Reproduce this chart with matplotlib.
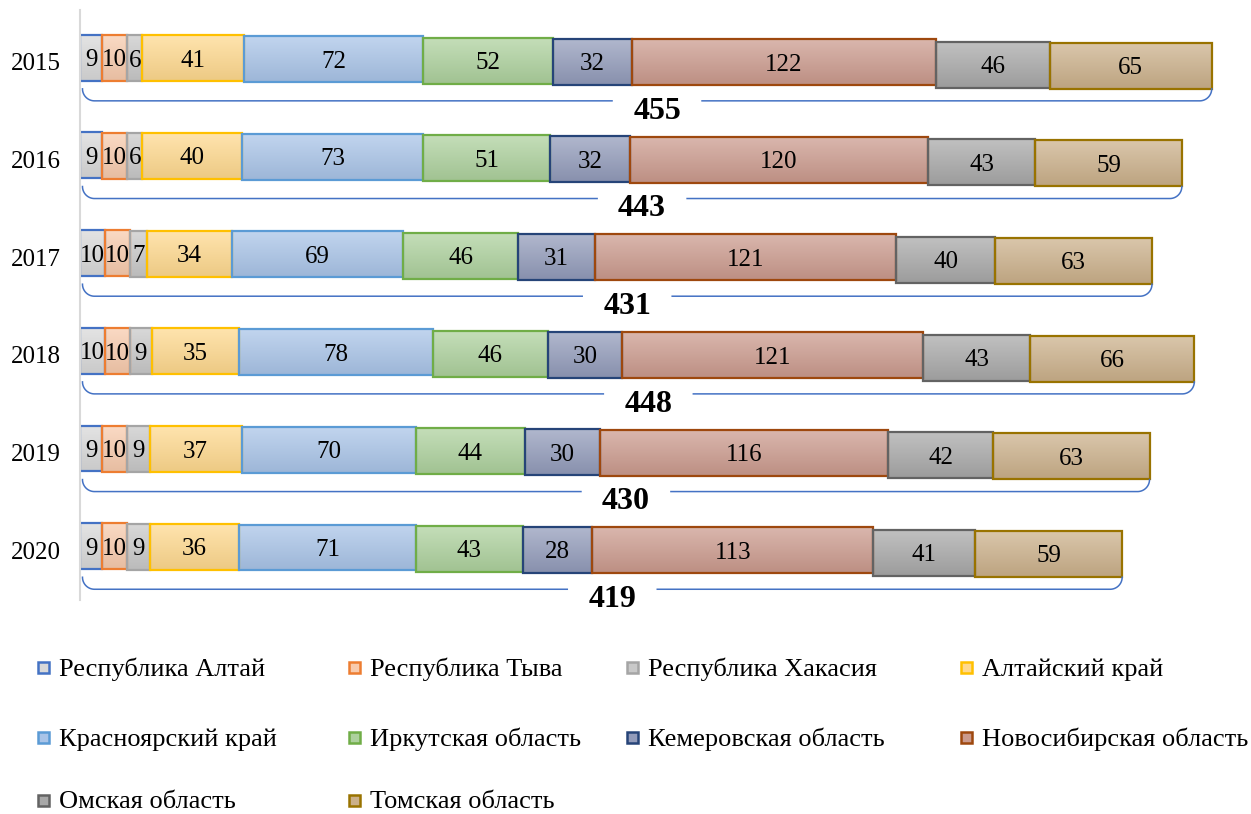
import numpy as np
import matplotlib
matplotlib.use('Agg')
import matplotlib.pyplot as plt
from matplotlib.colors import to_rgb, LinearSegmentedColormap
from matplotlib.patches import Rectangle

years = ['2015', '2016', '2017', '2018', '2019', '2020']
regions = ['Республика Алтай', 'Республика Тыва', 'Республика Хакасия',
           'Алтайский край', 'Красноярский край', 'Иркутская область',
           'Кемеровская область', 'Новосибирская область',
           'Омская область', 'Томская область']
altai_rep = [9, 9, 10, 10, 9, 9]
tyva = [10, 10, 10, 10, 10, 10]
khakasia = [6, 6, 7, 9, 9, 9]
altai_krai = [41, 40, 34, 35, 37, 36]
krasnoyarsk = [72, 73, 69, 78, 70, 71]
irkutsk = [52, 51, 46, 46, 44, 43]
kemerovo = [32, 32, 31, 30, 30, 28]
novosibirsk = [122, 120, 121, 121, 116, 113]
omsk = [46, 43, 40, 43, 42, 41]
tomsk = [65, 59, 63, 66, 63, 59]
series = [altai_rep, tyva, khakasia, altai_krai, krasnoyarsk, irkutsk,
          kemerovo, novosibirsk, omsk, tomsk]

fills = ['#D9D9D9', '#F8CBAD', '#C9C9C9', '#FFD98E', '#A9C4E8',
         '#ADD19D', '#929BBA', '#CB9A8D', '#A8A8A8', '#CBB08A']
edges = ['#4472C4', '#ED7D31', '#A5A5A5', '#FFC000', '#5B9BD5',
         '#70AD47', '#264478', '#9E480E', '#636363', '#997300']

plt.rcParams['font.family'] = ['Liberation Serif', 'DejaVu Serif']

W, H = 1251, 814
fig = plt.figure(figsize=(W / 100, H / 100), dpi=100)
ax = fig.add_axes([80 / W, 1 - 600 / H, 1169 / W, 590 / H])
XMAX = 470
ax.set_xlim(0, XMAX)
ax.set_ylim(5.51, -0.53)
PX_X = 1169 / XMAX
PX_Y = 590 / 6.04

rows = np.arange(len(years))
bar_h = 0.47
skew = 8 / PX_Y / 390   # slight downward drift of segments along the bar


def gradient_fill(patch, color):
    c = np.array(to_rgb(color))
    light = c + (1 - c) * 0.28
    dark = c * 0.93
    cmap = LinearSegmentedColormap.from_list('g', [light, dark])
    x0, y0 = patch.get_x(), patch.get_y()
    w, h = patch.get_width(), patch.get_height()
    grad = np.linspace(0, 1, 64).reshape(-1, 1)
    im = ax.imshow(grad, cmap=cmap, aspect='auto', origin='upper',
                   extent=(x0, x0 + w, y0 + h, y0), interpolation='bilinear',
                   zorder=1)
    im.set_clip_path(patch)


left = np.zeros(len(years))
for vals, fc, ec in zip(series, fills, edges):
    vals = np.array(vals)
    ypos = rows + left * skew - 4 / PX_Y
    bars = ax.barh(ypos, vals, left=left, height=bar_h, color=fc,
                   edgecolor=ec, linewidth=1.6, zorder=2)
    for b in bars:
        b.set_facecolor('none')
        gradient_fill(b, fc)
    for yy, l, v in zip(ypos, left, vals):
        ax.text(l + v / 2, yy, str(v), ha='center', va='center_baseline',
                fontsize=18, zorder=4)
    left = left + vals

totals = left

# curly brace under each bar with the total
t = np.linspace(0, np.pi / 2, 30)
rx, ry = 12 / PX_X, 12 / PX_Y
gap = 45 / PX_X
for r, tot in zip(rows, totals):
    bot = r + 0.40
    x0, x1 = 1.0, tot
    xc = (x0 + x1) / 2 + 4
    lx = np.concatenate([x0 + rx - rx * np.cos(t), [xc - gap]])
    ly = np.concatenate([bot - ry + ry * np.sin(t), [bot]])
    rxs = np.concatenate([[xc + gap], x1 - rx + rx * np.sin(t)])
    rys = np.concatenate([[bot], bot - ry + ry * np.cos(t)])
    ax.plot(lx, ly, color='#4472C4', lw=1.1, zorder=3)
    ax.plot(rxs, rys, color='#4472C4', lw=1.1, zorder=3)
    ax.text(xc, r + 0.47, '%d' % tot, ha='center', va='center_baseline',
            fontsize=23, fontweight='bold', zorder=4)

ax.set_yticks(rows)
ax.set_yticklabels(years, fontsize=18)
ax.tick_params(axis='y', length=0, pad=14)
ax.set_xticks([])
for s in ['top', 'right', 'bottom']:
    ax.spines[s].set_visible(False)
ax.spines['left'].set_color('#D9D9D9')
ax.spines['left'].set_linewidth(1.5)
ax.spines['left'].set_zorder(5)

# legend laid out like the original grid
col_x = [38, 349, 627, 961]
row_y = [667, 737, 800]
for i, (name, fc, ec) in enumerate(zip(regions, fills, edges)):
    cx = col_x[i % 4]
    cy = row_y[i // 4]
    fig.add_artist(Rectangle((cx / W, 1 - (cy + 6) / H), 11 / W, 11 / H,
                             transform=fig.transFigure, facecolor=fc,
                             edgecolor=ec, linewidth=1.8))
    fig.text((cx + 21) / W, 1 - cy / H, name, ha='left',
             va='center_baseline', fontsize=19)

fig.savefig('out.png', dpi=100)
